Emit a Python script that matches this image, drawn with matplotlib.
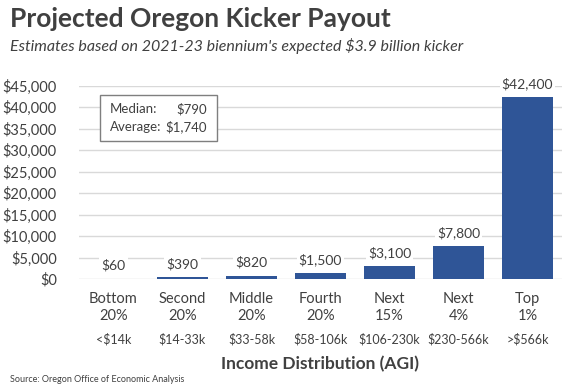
import matplotlib
matplotlib.use('Agg')
import matplotlib.pyplot as plt
import matplotlib.patches as mpatches
from matplotlib.ticker import FuncFormatter, MultipleLocator
import numpy as np

plt.rcParams['font.family'] = ['Lato', 'DejaVu Sans']

GROUPS = ['Bottom\n20%', 'Second\n20%', 'Middle\n20%', 'Fourth\n20%',
          'Next\n15%', 'Next\n4%', 'Top\n1%']
RANGES = ['<$14k', '$14-33k', '$33-58k', '$58-106k', '$106-230k', '$230-566k', '>$566k']
PAYOUT = [60, 390, 820, 1500, 3100, 7800, 42400]
MEDIAN = 790
AVERAGE = 1740

BAR = '#2F5597'
TXT = '#404040'
GRID = '#D9D9D9'

fig = plt.figure(figsize=(5.79, 3.87), dpi=100)
ax = fig.add_axes([0.1364, 0.279, 0.8342, 0.4996])

x = np.arange(len(PAYOUT))
ax.bar(x, PAYOUT, width=0.74, color=BAR, zorder=2)

for xi, v in zip(x, PAYOUT):
    ax.annotate(f'${v:,}', (xi, v), xytext=(0, 9.5), textcoords='offset points',
                ha='center', va='center', fontsize=10, color=TXT, zorder=3,
                bbox=dict(facecolor='white', edgecolor='none', pad=1.5))

ax.set_xlim(-0.5, len(PAYOUT) - 0.5)
ax.set_ylim(0, 45000)
ax.yaxis.set_major_locator(MultipleLocator(5000))
ax.yaxis.set_major_formatter(FuncFormatter(lambda v, p: f'${v:,.0f}'))
ax.grid(axis='y', color=GRID, linewidth=1, zorder=0)
for s in ax.spines.values():
    s.set_visible(False)
ax.tick_params(axis='both', length=0, labelsize=10.5, colors=TXT)
ax.tick_params(axis='y', pad=16)
ax.set_xticks(x)
ax.set_xticklabels(GROUPS, linespacing=1.35)
ax.tick_params(axis='x', pad=9)

trans = ax.get_xaxis_transform()
for xi, r in zip(x, RANGES):
    ax.text(xi, -0.31, r, transform=trans, ha='center', va='center',
            fontsize=9, color=TXT)

ax.text(0.5, -0.44, 'Income Distribution (AGI)', transform=ax.transAxes,
        ha='center', va='center', fontsize=12.5, fontweight='bold', color=TXT)

# summary box
box = mpatches.Rectangle((100 / 579, 1 - 140.7 / 387), 117 / 579, 46 / 387,
                         transform=fig.transFigure, facecolor='white',
                         edgecolor='#7F7F7F', linewidth=1, zorder=5)
fig.patches.append(box)
fig.text(110 / 579, 1 - 109 / 387, 'Median:', fontsize=9.5, color=TXT, va='center', zorder=6)
fig.text(110 / 579, 1 - 127 / 387, 'Average:', fontsize=9.5, color=TXT, va='center', zorder=6)
fig.text(207 / 579, 1 - 109 / 387, f'${MEDIAN:,}', fontsize=9.5, color=TXT, va='center', ha='right', zorder=6)
fig.text(207 / 579, 1 - 127 / 387, f'${AVERAGE:,}', fontsize=9.5, color=TXT, va='center', ha='right', zorder=6)

fig.text(10 / 579, 1 - 19 / 387, 'Projected Oregon Kicker Payout', fontsize=19,
         fontweight='bold', color=TXT, va='center')
fig.text(10 / 579, 1 - 46 / 387,
         "Estimates based on 2021-23 biennium's expected $3.9 billion kicker",
         fontsize=11.5, style='italic', color=TXT, va='center')
fig.text(10 / 579, 1 - 380 / 387, 'Source: Oregon Office of Economic Analysis',
         fontsize=6.5, color=TXT, va='center')

plt.savefig('out.png', dpi=100)
